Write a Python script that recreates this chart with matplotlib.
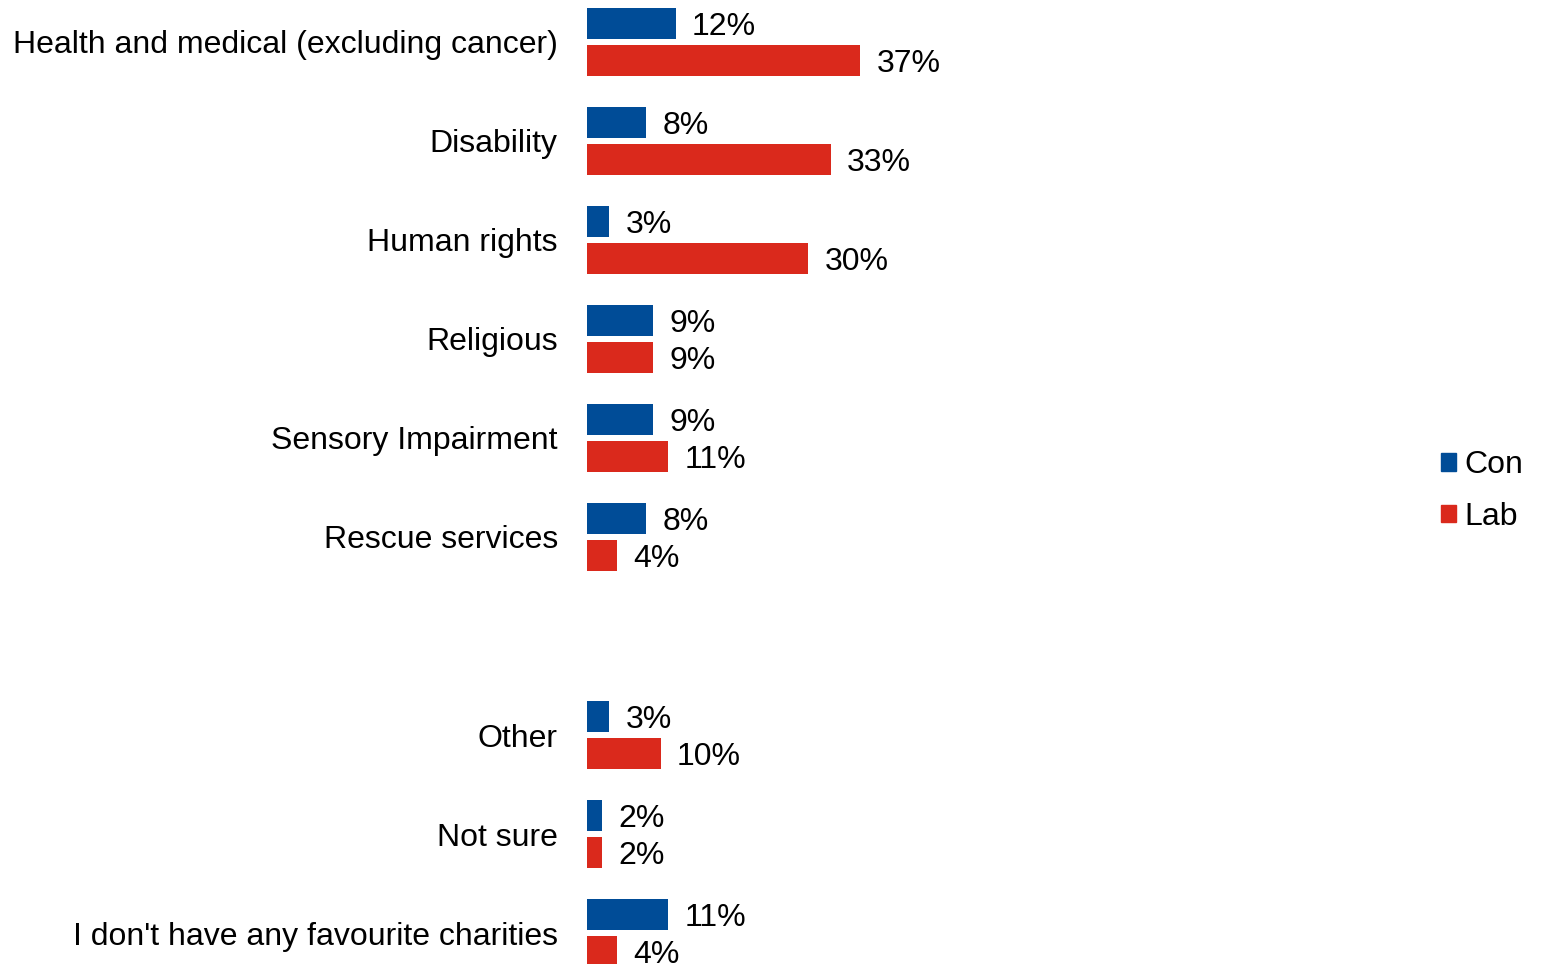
import matplotlib.pyplot as plt
from matplotlib.patches import Patch

plt.rcParams['font.family'] = ['Liberation Sans', 'DejaVu Sans']

categories = ['Health and medical (excluding cancer)', 'Disability', 'Human rights',
              'Religious', 'Sensory Impairment', 'Rescue services', '',
              'Other', 'Not sure', "I don't have any favourite charities"]
con = [12, 8, 3, 9, 9, 8, None, 3, 2, 11]
lab = [37, 33, 30, 9, 11, 4, None, 10, 2, 4]

blue = '#004C97'
red = '#DA291C'

fig = plt.figure(figsize=(15.49, 9.64), dpi=100)
ax = fig.add_axes([587 / 1549, 0, 813 / 1549, 1])

offset, height = 0.187, 0.313
for i, (c, l) in enumerate(zip(con, lab)):
    if c is None:
        continue
    ax.barh(i - offset, c, height=height, color=blue)
    ax.barh(i + offset, l, height=height, color=red)
    ax.text(c + 2.2, i - offset, '{}%'.format(c), va='center_baseline', ha='left', fontsize=23)
    ax.text(l + 2.2, i + offset, '{}%'.format(l), va='center_baseline', ha='left', fontsize=23)

ticks = [i for i, name in enumerate(categories) if name]
ax.set_yticks(ticks)
ax.set_yticklabels([categories[i] for i in ticks], fontsize=23)
ax.tick_params(axis='y', length=0, pad=21)
ax.set_xticks([])
ax.set_xlim(0, 813 / 7.38)
ax.set_ylim(9.313, -0.424)
for side in ax.spines.values():
    side.set_visible(False)

handles = [Patch(color=blue, label='Con'), Patch(color=red, label='Lab')]
fig.legend(handles=handles, loc='center left', bbox_to_anchor=(1441 / 1549, 1 - 491 / 964),
           frameon=False, fontsize=23, handlelength=0.47, handleheight=0.47,
           handletextpad=0.25, labelspacing=0.67, borderpad=0, borderaxespad=0)

fig.savefig('out.png', dpi=100)
